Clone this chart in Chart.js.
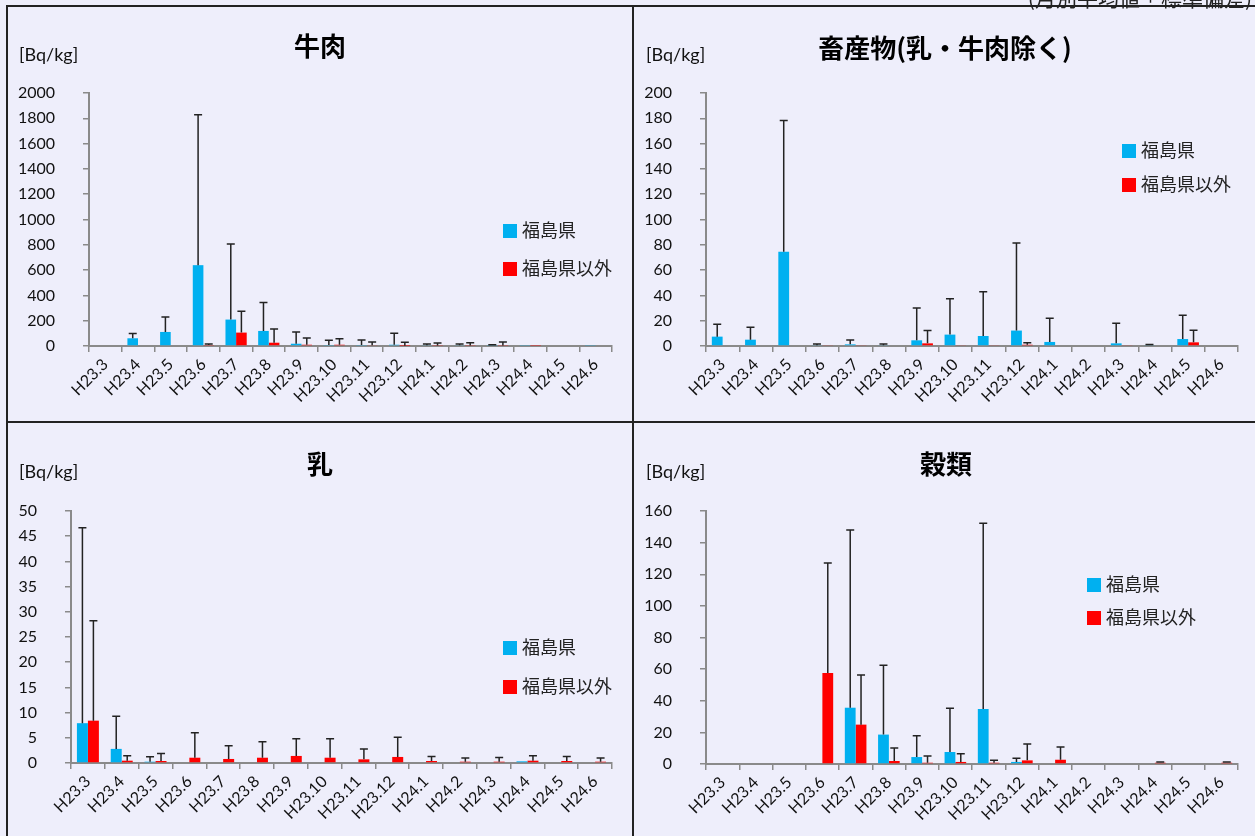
<!DOCTYPE html>
<html lang="ja">
<head>
<meta charset="utf-8">
<script src="https://cdn.jsdelivr.net/npm/chart.js@4.4.1/dist/chart.umd.min.js"></script>
<style>
  body { margin: 0; background: #eeeefb; }
  #page { position: relative; width: 1255px; height: 836px; overflow: hidden; background: #eeeefb; }
  canvas { position: absolute; }
  .line { position: absolute; background: #222; z-index: 5; }
  .title { position: absolute; font: bold 26px "Noto Sans CJK JP"; color: #000; transform: translate(-50%, -50%); white-space: nowrap; }
  .unit { position: absolute; font: 18px Lato; color: #111; transform: translateY(-50%); white-space: nowrap; }
  .legend { position: absolute; font: 18px "Noto Sans CJK JP"; color: #222; transform: translateY(-50%); white-space: nowrap; line-height: 20px; }
  .legend i { display: inline-block; width: 14px; height: 14px; margin-right: 5px; vertical-align: -1px; }
  .note { position: absolute; right: 3px; top: -13px; font: 21px "Noto Sans CJK JP"; line-height: 21px; color: #222; white-space: nowrap; z-index: 6; }
</style>
</head>
<body>
<div id="page">
  <canvas id="beef" width="624" height="414" style="left:8px;top:8px"></canvas>
  <canvas id="livestock" width="621" height="414" style="left:634px;top:8px"></canvas>
  <canvas id="milk" width="624" height="412" style="left:8px;top:424px"></canvas>
  <canvas id="grain" width="621" height="412" style="left:634px;top:424px"></canvas>

  <div class="note">(月別平均値±標準偏差)</div>

  <div class="line" style="left:6px;top:5px;width:1249px;height:2px"></div>
  <div class="line" style="left:6px;top:5px;width:2px;height:831px"></div>
  <div class="line" style="left:632px;top:5px;width:2px;height:831px"></div>
  <div class="line" style="left:6px;top:421px;width:1249px;height:2px"></div>

  <div class="title" style="left:320px;top:44px">牛肉</div>
  <div class="title" style="left:945px;top:46px">畜産物(乳・牛肉除く)</div>
  <div class="title" style="left:320px;top:462px">乳</div>
  <div class="title" style="left:946px;top:462px">穀類</div>

  <div class="unit" style="left:19px;top:54px">[Bq/kg]</div>
  <div class="unit" style="left:646px;top:54px">[Bq/kg]</div>
  <div class="unit" style="left:19px;top:471px">[Bq/kg]</div>
  <div class="unit" style="left:646px;top:471px">[Bq/kg]</div>

  <div class="legend" style="left:503px;top:229px"><i style="background:#00b0f0"></i>福島県</div>
  <div class="legend" style="left:503px;top:267px"><i style="background:#ff0000"></i>福島県以外</div>
  <div class="legend" style="left:1122px;top:149px"><i style="background:#00b0f0"></i>福島県</div>
  <div class="legend" style="left:1122px;top:183px"><i style="background:#ff0000"></i>福島県以外</div>
  <div class="legend" style="left:503px;top:646px"><i style="background:#00b0f0"></i>福島県</div>
  <div class="legend" style="left:503px;top:685px"><i style="background:#ff0000"></i>福島県以外</div>
  <div class="legend" style="left:1087px;top:583px"><i style="background:#00b0f0"></i>福島県</div>
  <div class="legend" style="left:1087px;top:616px"><i style="background:#ff0000"></i>福島県以外</div>
</div>
<script>
// months (平成23年3月 - 平成24年6月)
const months = ['H23.3', 'H23.4', 'H23.5', 'H23.6', 'H23.7', 'H23.8', 'H23.9', 'H23.10',
                'H23.11', 'H23.12', 'H24.1', 'H24.2', 'H24.3', 'H24.4', 'H24.5', 'H24.6'];

// 牛肉
const beefFukushima   = [null, 61, 111, 639, 209, 119, 18, 8, 8, 10, 5, 5, 4, 4, null, 4];
const beefFukushimaSd = [0, 37, 119, 1189, 597, 224, 93, 37, 40, 90, 11, 10, 6, 0, 0, 0];
const beefOther       = [null, null, null, 8, 106, 26, 10, 10, 5, 2, 4, 4, 4, 3, null, null];
const beefOtherSd     = [0, 0, 0, 8, 169, 109, 53, 48, 27, 27, 20, 22, 28, 0, 0, 0];

// 畜産物(乳・牛肉除く)
const stockFukushima   = [7.4, 5.0, 74.5, 0.5, 1.3, 0.5, 4.5, 9.0, 7.9, 12.2, 3.2, null, 2.1, 0.5, 5.5, null];
const stockFukushimaSd = [9.8, 9.8, 103.8, 1.1, 3.5, 1.1, 25.6, 28.3, 34.9, 69.2, 18.7, 0, 15.9, 0.6, 18.8, 0];
const stockOther       = [null, null, null, 0.5, 0.5, null, 2.1, 0.5, 0.5, 1.0, null, null, 0.5, null, 2.9, null];
const stockOtherSd     = [0, 0, 0, 0, 0, 0, 10.1, 0, 0, 1.6, 0, 0, 0, 0, 9.5, 0];

// 乳
const milkFukushima   = [7.9, 2.8, 0.26, null, null, null, null, null, null, null, null, null, null, 0.33, null, null];
const milkFukushimaSd = [38.8, 6.5, 1.0, 0, 0, 0, 0, 0, 0, 0, 0, 0, 0, 0, 0, 0];
const milkOther       = [8.4, 0.46, 0.4, 1.05, 0.8, 1.05, 1.4, 1.05, 0.73, 1.2, 0.4, 0.26, 0.26, 0.46, 0.4, 0.26];
const milkOtherSd     = [19.8, 1.0, 1.5, 4.95, 2.6, 3.15, 3.4, 3.75, 2.07, 3.9, 0.9, 0.74, 0.84, 0.99, 0.9, 0.74];

// 穀類
const grainFukushima   = [null, null, null, null, 35.6, 18.6, 4.4, 7.6, 34.8, 1.3, null, null, null, null, null, null];
const grainFukushimaSd = [0, 0, 0, 0, 112.4, 43.8, 13.5, 27.6, 117.4, 2.3, 0, 0, 0, 0, 0, 0];
const grainOther       = [null, null, null, 57.5, 24.9, 1.9, 0.8, 1.3, 0.8, 2.3, 2.7, null, null, 0.8, null, 0.8];
const grainOtherSd     = [0, 0, 0, 69.6, 31.4, 8.2, 4.3, 5.2, 1.5, 10.3, 8.1, 0, 0, 0.5, 0, 0.5];

const BLUE = '#00b0f0';
const RED = '#ff0000';
const AXIS = '#8a8a8a';
const tickFont = { family: 'Lato', size: 16 };

// upper error bars (mean + SD) with a cap
const errorBars = {
    id: 'errorBars',
    afterDatasetsDraw(chart) {
        const ctx = chart.ctx;
        const y = chart.scales.y;
        chart.data.datasets.forEach((ds, i) => {
            const meta = chart.getDatasetMeta(i);
            ds.errors.forEach((sd, j) => {
                const v = ds.data[j];
                if (v == null || !sd) return;
                const bar = meta.data[j];
                const top = y.getPixelForValue(v + sd);
                ctx.save();
                ctx.strokeStyle = '#222';
                ctx.lineWidth = 1.5;
                ctx.beginPath();
                ctx.moveTo(bar.x, bar.y);
                ctx.lineTo(bar.x, top);
                ctx.moveTo(bar.x - 4, top);
                ctx.lineTo(bar.x + 4, top);
                ctx.stroke();
                ctx.restore();
            });
        });
    }
};

function makeChart(id, box, yMax, yStep, fuku, fukuSd, other, otherSd) {
    return new Chart(document.getElementById(id), {
        type: 'bar',
        data: {
            labels: months,
            datasets: [
                { label: '福島県', data: fuku, errors: fukuSd, backgroundColor: BLUE },
                { label: '福島県以外', data: other, errors: otherSd, backgroundColor: RED }
            ]
        },
        options: {
            responsive: false,
            animation: false,
            categoryPercentage: 0.65,
            barPercentage: 1.0,
            layout: { padding: { top: box.top, right: box.right, bottom: 0, left: 0 } },
            plugins: { legend: { display: false }, tooltip: { enabled: false } },
            scales: {
                x: {
                    grid: { drawOnChartArea: false, tickLength: 6, color: AXIS, lineWidth: 1.5, offset: true },
                    border: { color: AXIS, width: 2 },
                    ticks: { font: tickFont, color: '#111', minRotation: 45, maxRotation: 45, autoSkip: false, padding: 3 },
                    afterFit(axis) { axis.height = box.xh; }
                },
                y: {
                    min: 0,
                    max: yMax,
                    grid: { drawOnChartArea: false, tickLength: 6, color: AXIS, lineWidth: 1.5 },
                    border: { color: AXIS, width: 2 },
                    ticks: {
                        stepSize: yStep, font: tickFont, color: '#111', padding: 28,
                        callback: (value) => String(value)
                    },
                    afterFit(axis) { axis.width = box.yw; }
                }
            }
        },
        plugins: [errorBars]
    });
}

makeChart('beef', { top: 85, right: 20, xh: 76, yw: 81 }, 2000, 200,
    beefFukushima, beefFukushimaSd, beefOther, beefOtherSd);
makeChart('livestock', { top: 85, right: 17, xh: 76, yw: 72 }, 200, 20,
    stockFukushima, stockFukushimaSd, stockOther, stockOtherSd);
makeChart('milk', { top: 87, right: 20, xh: 73, yw: 63 }, 50, 5,
    milkFukushima, milkFukushimaSd, milkOther, milkOtherSd);
makeChart('grain', { top: 87, right: 17, xh: 72, yw: 72 }, 160, 20,
    grainFukushima, grainFukushimaSd, grainOther, grainOtherSd);
</script>
</body>
</html>
